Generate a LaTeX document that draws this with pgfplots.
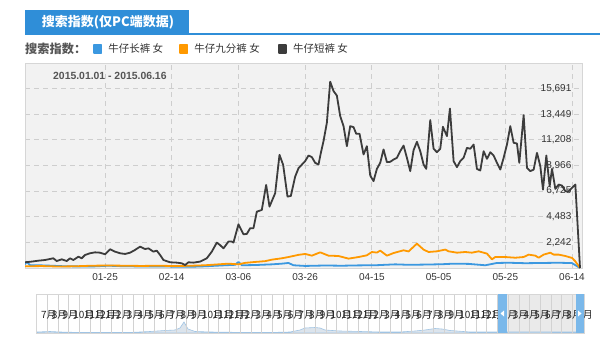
\documentclass[border=0pt]{standalone}
\usepackage{pgfplots}
\pgfplotsset{compat=1.18}
\usepackage{fontspec}
\setmainfont{Liberation Sans}
\newfontfamily\cjk{Noto Sans CJK SC}
\definecolor{tabblue}{RGB}{47,142,216}
\definecolor{lblue}{RGB}{59,152,224}
\definecolor{lorange}{RGB}{255,153,0}
\definecolor{ldark}{RGB}{60,60,60}
\definecolor{gridc}{RGB}{206,206,206}
\definecolor{bgc}{RGB}{242,242,242}
\definecolor{borderc}{RGB}{214,214,214}
\definecolor{handle}{RGB}{122,184,234}
\definecolor{textc}{RGB}{51,51,51}
\definecolor{datec}{RGB}{85,85,85}
\definecolor{navgrid}{RGB}{210,210,210}
\definecolor{navsel}{RGB}{234,234,234}
\definecolor{sparkfill}{RGB}{220,228,236}
\definecolor{sparkline}{RGB}{160,196,228}

\pgfplotstableread{
x y
0 500
2 560
4 640
6 700
8.5 850
9.5 610
11 760
12.5 610
13.5 850
14.5 700
16 990
17 850
18 1140
19.5 1290
21 1370
22.5 1340
24 1200
25.5 1640
27 1430
28.5 1290
30 1230
31.5 1340
33 1580
34.5 1870
36 1660
37 1720
38.5 1430
39.5 1520
40.5 1140
41.5 700
43.5 500
45.5 470
47 410
48 260
49 500
50.5 470
52.5 560
54.5 850
56 1430
57.5 2220
58.5 2000
59.5 1720
61 2310
62 2310
62.5 2220
64 3830
65.5 2950
66.5 2980
67.5 3480
68.5 3480
69.5 4930
71 5080
72.3 7270
73.3 5370
75 6540
76.3 9900
77.4 9020
78.7 6250
79.7 6300
81 8000
82 8730
84 9350
85 9840
86 9700
87 9200
88 9050
88.7 10070
89.5 11100
90.5 12700
91.5 16300
92.5 15480
93.5 15080
94.5 13290
95.5 12410
96.5 10660
97.5 12410
98.5 12320
99.3 11740
100.3 11740
101.5 9930
102.5 10660
103.5 8090
104.5 7600
105.5 8670
106.5 9200
107.5 10370
108.5 9260
109.5 9290
110.5 9490
111.5 9640
112.5 10220
113.5 10710
114.5 9640
115.5 8470
116.5 10310
117.5 11040
118.5 10220
119.5 9050
120.3 8670
121.5 12940
122.5 10430
123.5 10130
124.5 10430
125.3 12350
126.5 11540
127.4 13950
128.5 9350
129.5 8820
130.5 9350
131.5 9640
132.5 10510
133.5 10430
134.5 10800
135.5 8670
136.5 8530
137.5 10220
138.5 9550
139.5 10130
140.5 9840
141.5 9200
142.5 8610
143.5 9640
144.5 10800
145.5 12410
146.5 10950
147.5 10890
148.2 9200
149.5 13370
150.5 8760
151.5 8470
152.5 8610
153.5 10070
154.5 8900
155.3 6860
156.3 9840
157.3 7150
158 8670
159 6920
160 7300
161 7210
162 6720
163 6720
164 7010
165 7300
166.4 0
}\duanku

\pgfplotstableread{
x y
0 150
5 170
10 130
15 150
20 200
25 220
30 200
35 180
40 200
45 170
50 200
54 240
57 300
61 380
64 320
66 450
69 530
72 600
74 730
77 850
79 960
82 1150
84 1230
86 1080
88.5 1370
91 1080
94 1050
97 820
100 960
102.5 1110
104 1400
105.5 1350
106.5 1520
108.5 1080
110.5 1310
113.5 1550
115 1450
117.5 2130
119.5 1610
121 1400
123.5 1460
126 1610
127 1460
129.5 1340
132 1400
134 1340
136 1460
138.5 1260
140 760
141 960
144 960
147 900
149.5 960
151 1170
153 1080
154 900
155.5 1170
157.5 1340
158.5 1170
160 1170
162 1050
164 880
165 580
166.4 0
}\jiufenku

\pgfplotstableread{
x y
0 320
0.5 550
1.5 250
4 240
8 200
12 150
20 130
25 200
30 150
40 130
50 110
54 150
60 240
63 280
64 530
65 240
69 260
74 320
77 380
79 440
80.5 240
84 180
90 220
95 200
100 230
105 240
111 320
115 280
120 300
125 330
128.5 380
133 360
138 240
141.5 440
145 460
150 420
155 440
160 460
164 430
166.4 0
}\changku

\pgfplotstableread{
x y
36.5 1
50 1.5
60 1
80 0.5
100 0.6
130 0.5
150 1.5
165 2.5
175 3
180 5
184 11
188 4
195 1.5
210 1
240 0.6
270 0.5
290 1
300 3
305 5
315 5.5
320 5
325 3
340 2
360 1.5
380 1
400 1
415 2
425 3
435 4.5
442 4
450 2.5
470 1
500 1
530 1.2
560 1
584 1
}\spark

\begin{document}
\begin{tikzpicture}[x=1bp,y=1bp]
\useasboundingbox (0,0) rectangle (600,339);

% navigator
\begin{axis}[
  at={(36.5bp,6bp)}, anchor=south west,
  scale only axis, width=547.5bp, height=39bp,
  xmin=36.5, xmax=584, ymin=0, ymax=39,
  axis background/.style={fill=white},
  axis line style={borderc, line width=0.8bp},
  axis on top,
  ytick=\empty,
  xtick={36.5,47.22,...,573},
  xticklabels={7月,8月,9月,10月,11月,12月,1月,2月,3月,4月,5月,6月,7月,8月,9月,10月,11月,12月,1月,2月,3月,4月,5月,6月,7月,8月,9月,10月,11月,12月,1月,2月,3月,4月,5月,6月,7月,8月,9月,10月,11月,12月,1月,2月,3月,4月,5月,6月,7月,8月,9月},
  xmajorgrids,
  major tick length=0pt,
  grid style={navgrid, solid, line width=0.7bp},
  xticklabel style={anchor=west, inner sep=0pt, xshift=4.5bp, yshift=18bp, font=\cjk\fontsize{10bp}{12bp}\selectfont, text=black!85},
]
\addplot[fill=navsel, draw=none] coordinates {(507,0) (507,39) (576,39) (576,0)} \closedcycle;
\addplot[fill=sparkfill, draw=sparkline, line width=0.6bp] table[x=x,y=y] {\spark} \closedcycle;
\end{axis}

\begin{axis}[
  at={(25bp,71bp)}, anchor=south west,
  scale only axis, width=557bp, height=205bp,
  xmin=0, xmax=167, ymin=0, ymax=17933,
  scaled y ticks=false, scaled x ticks=false,
  axis background/.style={fill=bgc},
  axis line style={borderc, line width=0.8bp},
  xtick={24,44,...,164},
  xticklabels={01-25,02-14,03-06,03-26,04-15,05-05,05-25,06-14},
  ytick={2242,4483,6725,8966,11208,13449,15691},
  yticklabels={{2,242},{4,483},{6,725},{8,966},{11,208},{13,449},{15,691}},
  yticklabel pos=right,
  major tick length=0pt,
  grid=major,
  grid style={gridc, dash pattern=on 5bp off 4bp, line width=0.8bp},
  yticklabel style={anchor=east, inner sep=0pt, xshift=-10.5bp, font=\fontsize{10bp}{12bp}\selectfont, text=textc},
  xticklabel style={anchor=north, inner sep=0pt, yshift=-5bp, font=\fontsize{10bp}{12bp}\selectfont, text=textc},
  legend image code/.code={\fill[#1] (0bp,-3.75bp) rectangle (7.5bp,3.75bp); \path (13.5bp,0bp);},
  legend style={at={(0.1221,1.068)}, anchor=west, draw=none, fill=none, inner sep=0pt, outer sep=0pt,
    nodes={inner sep=0pt, text=textc}, font=\cjk\fontsize{10.5bp}{12bp}\selectfont},
  legend columns=-1, legend cell align=left,
]
\addplot[color=lblue, line width=1.8bp, line join=round] table[x=x,y=y] {\changku};
\addlegendentry{牛仔长裤 女\rule{16bp}{0pt}}
\addplot[color=lorange, line width=1.8bp, line join=round] table[x=x,y=y] {\jiufenku};
\addlegendentry{牛仔九分裤 女\rule{18bp}{0pt}}
\addplot[color=ldark, line width=1.8bp, line join=round] table[x=x,y=y] {\duanku};
\addlegendentry{牛仔短裤 女}
\node[anchor=west, inner sep=0pt, text=datec, font=\bfseries\fontsize{10.4bp}{12bp}\selectfont] at (rel axis cs:0.0503,0.937) {2015.01.01 - 2015.06.16};
\end{axis}

% title tab
\fill[tabblue] (25,305) rectangle (189,329);
\draw[tabblue,line width=1.4bp] (25,305) -- (600,305);
\node[text=white,inner sep=0pt,font=\cjk\bfseries\fontsize{13bp}{15bp}\selectfont] at (108,317) {搜索指数(仅PC端数据)};
\node[anchor=west,inner sep=0pt,text=datec,font=\cjk\bfseries\fontsize{12.2bp}{14bp}\selectfont] at (25,290) {搜索指数：};

% slider handles
\fill[handle] (498,6) rectangle (507,45);
\fill[handle] (576,6) rectangle (584,45);
\fill[white] (500.5,25.5) -- (504,28.5) -- (504,22.5) -- cycle;
\fill[white] (581.5,25.5) -- (578,28.5) -- (578,22.5) -- cycle;
\end{tikzpicture}
\end{document}
